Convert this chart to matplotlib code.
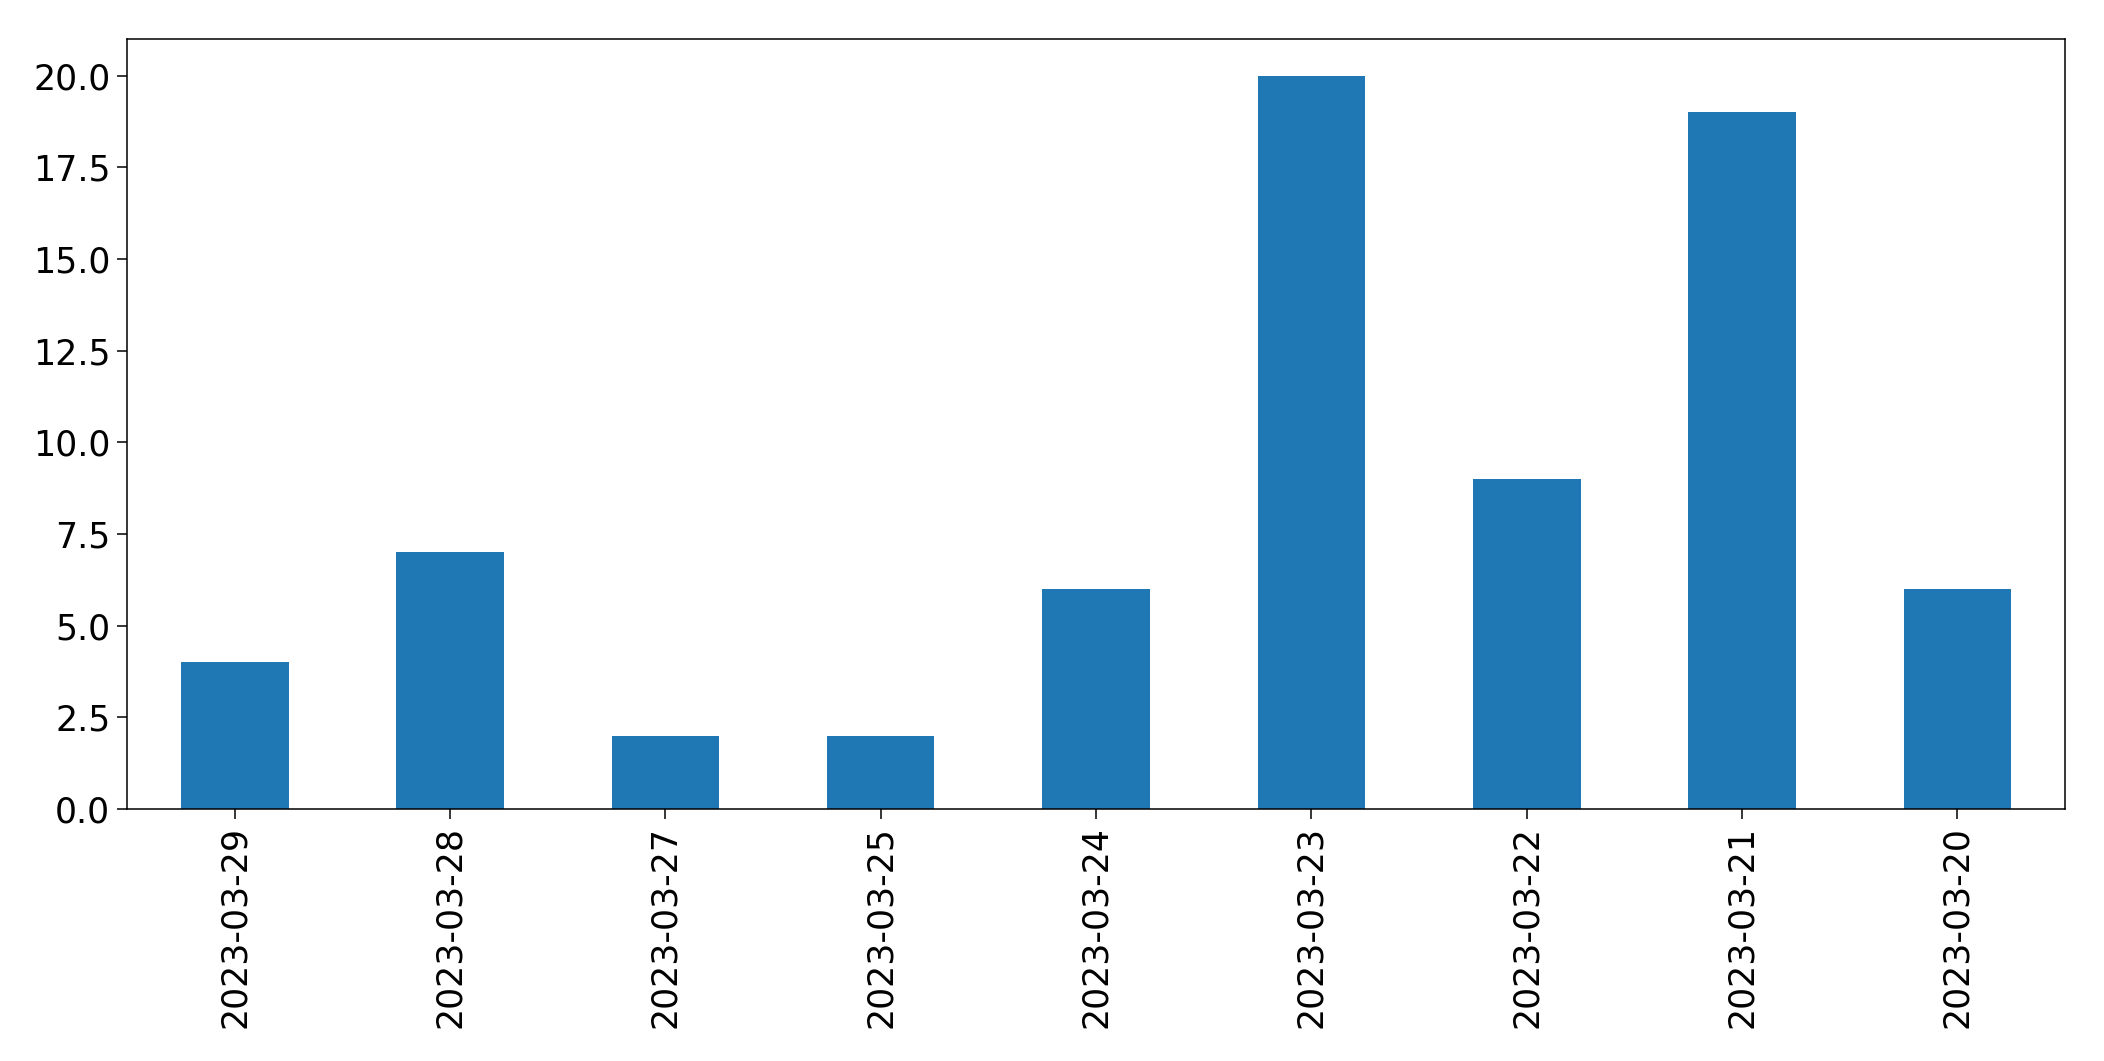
import numpy as np
import matplotlib
matplotlib.use("Agg")
import matplotlib.pyplot as plt

# counts per day, in the order shown
dates = ["2023-03-29", "2023-03-28", "2023-03-27", "2023-03-25", "2023-03-24",
         "2023-03-23", "2023-03-22", "2023-03-21", "2023-03-20"]
counts = [4, 7, 2, 2, 6, 20, 9, 19, 6]

fig = plt.figure(figsize=(21.04, 10.61), dpi=100)
ax = fig.add_axes([127 / 2104, 1 - 809 / 1061, (2065 - 127) / 2104, (809 - 39) / 1061])

x = np.arange(len(dates))
ax.bar(x, counts, width=0.5, color="#1f77b4")
ax.set_xlim(-0.5, len(dates) - 0.5)
ax.set_ylim(0, max(counts) * 1.05)
ax.set_yticks(np.arange(0, 20.1, 2.5))
ax.set_xticks(x)
ax.set_xticklabels(dates, rotation=90)

ax.tick_params(labelsize=25, length=7, width=1.1, pad=5)
for s in ax.spines.values():
    s.set_linewidth(1.1)

fig.savefig("out.png", dpi=100)
